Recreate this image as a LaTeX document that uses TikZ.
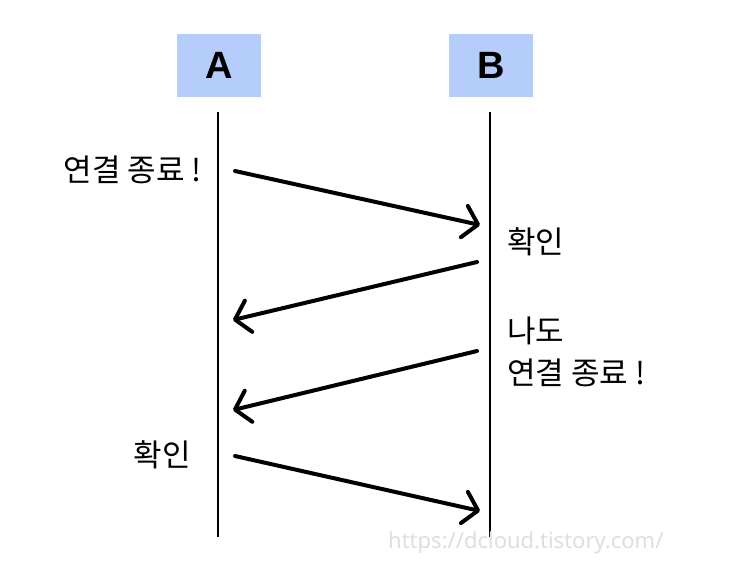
\documentclass[tikz,border=0pt]{standalone}
\usepackage{fontspec}
\setmainfont{Noto Sans CJK KR}
\newfontfamily\latinfont{Liberation Sans}
\newfontfamily\urlfont{Noto Sans}
\usetikzlibrary{positioning,arrows.meta}
\definecolor{boxblue}{RGB}{180,205,250}
\definecolor{urlgray}{RGB}{222,222,222}
\tikzset{
  actor/.style={fill=boxblue, minimum width=84pt, minimum height=63pt, inner sep=0pt,
                font=\latinfont\bfseries\fontsize{38}{38}\selectfont},
  lifeline/.style={line width=2.5pt},
  msg/.style={-{Straight Barb[length=14pt,width=32pt,round]}, line width=4pt, line cap=round},
  lbl/.style={font=\fontsize{31}{42}\selectfont, inner sep=0pt, align=left},
  urltext/.style={font=\urlfont\fontsize{22}{22}\selectfont, text=urlgray, inner sep=0pt}
}

\begin{document}
\begin{tikzpicture}[x=1pt,y=-1pt]
        \useasboundingbox (0,0) rectangle (750,576);
        \node[actor] (a) at (219,65.5) {A};
        \node[actor] (b) at (491,65.5) {B};
        \coordinate (atop) at (218,112); \coordinate (abot) at (218,537);
        \coordinate (btop) at (490,112); \coordinate (bbot) at (490,537);
        \draw[lifeline] (atop) -- (abot);
        \draw[lifeline] (btop) -- (bbot);
        \coordinate (m1s) at (235,171); \coordinate (m1e) at (480,225);
        \coordinate (m2s) at (477,262); \coordinate (m2e) at (233,320);
        \coordinate (m3s) at (477,351); \coordinate (m3e) at (233,410);
        \coordinate (m4s) at (235,456); \coordinate (m4e) at (480,511);
        \draw[msg] (m1s) -- (m1e);
        \draw[msg] (m2s) -- (m2e);
        \draw[msg] (m3s) -- (m3e);
        \draw[msg] (m4s) -- (m4e);
        \node[lbl, anchor=east] (fin) at (202,170) {연결 종료 !};
        \node[lbl, anchor=west] (ack) at (507,242) {확인};
        \node[lbl, anchor=north west] (fin2) at (507,317) {나도\\연결 종료 !};
        \node[lbl, anchor=east] (ack2) at (191,455) {확인};
        \node[urltext, anchor=west] (url) at (388,543) {https://dcloud.tistory.com/};
      \end{tikzpicture}
\end{document}
